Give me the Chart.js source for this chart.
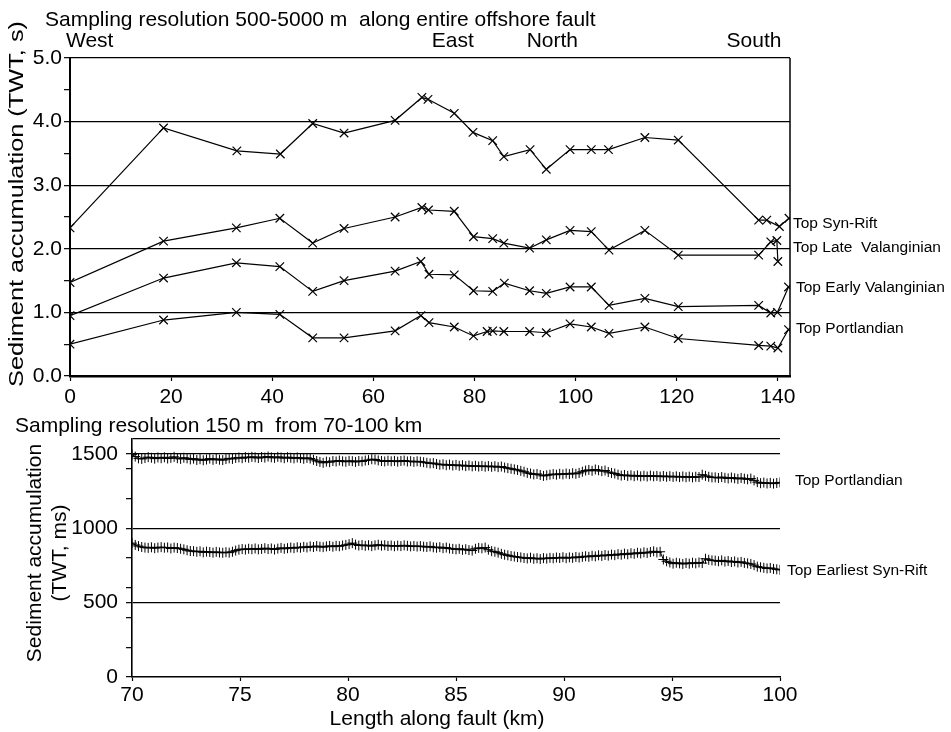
<!DOCTYPE html>
<html>
<head>
<meta charset="utf-8">
<script src="https://cdn.jsdelivr.net/npm/chart.js@4.4.1/dist/chart.umd.min.js"></script>
<style>
  html, body { margin: 0; padding: 0; background: #fff; }
  .box { position: absolute; left: 0; width: 951px; }
</style>
</head>
<body>
<div class="box" style="top:0;height:410px"><canvas id="top-chart"></canvas></div>
<div class="box" style="top:410px;height:322px"><canvas id="bottom-chart"></canvas></div>
<script>
// ---- top panel: whole offshore fault (km, TWT s) ----
var synRiftKm  = [0, 18.5, 33, 41.6, 48, 54.2, 64.3, 69.6, 70.8, 76, 79.7, 83.6, 85.8, 91, 94.2, 98.9, 103.1, 106.5, 113.7, 120.3, 136.2, 137.8, 140.3, 142.2];
var synRiftTwt = [2.33, 3.90, 3.54, 3.49, 3.97, 3.82, 4.02, 4.38, 4.35, 4.13, 3.83, 3.70, 3.45, 3.56, 3.25, 3.56, 3.56, 3.56, 3.75, 3.71, 2.45, 2.45, 2.35, 2.48];

var lateValKm  = [0, 18.5, 32.9, 41.5, 48, 54.2, 64.3, 69.6, 70.9, 76, 79.8, 83.6, 85.8, 90.9, 94.2, 98.9, 103.1, 106.6, 113.7, 120.3, 136.2, 138.6, 139.8, 140];
var lateValTwt = [1.47, 2.12, 2.33, 2.48, 2.09, 2.32, 2.50, 2.65, 2.61, 2.59, 2.19, 2.16, 2.09, 2.01, 2.14, 2.29, 2.27, 1.98, 2.29, 1.90, 1.90, 2.11, 2.13, 1.80];

var earlyValKm  = [0, 18.5, 32.9, 41.5, 48, 54.2, 64.3, 69.4, 71, 76, 79.8, 83.6, 85.9, 90.9, 94.2, 98.9, 103.1, 106.6, 113.7, 120.3, 136.2, 138.6, 139.9, 142.1];
var earlyValTwt = [0.95, 1.54, 1.78, 1.72, 1.33, 1.50, 1.65, 1.80, 1.60, 1.59, 1.34, 1.33, 1.46, 1.34, 1.30, 1.40, 1.40, 1.11, 1.22, 1.09, 1.11, 0.99, 1.00, 1.40];

var portKm  = [0, 18.5, 32.9, 41.5, 48, 54.2, 64.3, 69.4, 71, 76, 79.8, 82.5, 83.6, 85.8, 90.9, 94.2, 98.9, 103.1, 106.6, 113.7, 120.3, 136.2, 138.6, 140, 142.1];
var portTwt = [0.50, 0.88, 1.00, 0.97, 0.60, 0.60, 0.71, 0.95, 0.84, 0.77, 0.63, 0.70, 0.71, 0.70, 0.70, 0.68, 0.82, 0.77, 0.67, 0.77, 0.59, 0.48, 0.47, 0.44, 0.73];

var topSeriesNames = ['Top Syn-Rift', 'Top Late  Valanginian', 'Top Early Valanginian', 'Top Portlandian'];
var topTicksKm  = [0, 20, 40, 60, 80, 100, 120, 140];
var topTicksTwt = [0, 0.5, 1, 1.5, 2, 2.5, 3, 3.5, 4, 4.5, 5];

// ---- bottom panel: 150 m sampling from 70-100 km (TWT ms) ----
var bottomStartKm = 70;
var bottomStepKm = 0.15;
var portMs = [
  1495,1482,1470,1466,1472,1478,1474,1468,1476,1471,
  1477,1469,1473,1480,1471,1466,1474,1470,1463,1468,
  1459,1464,1457,1462,1468,1460,1466,1461,1458,1465,
  1470,1466,1473,1476,1471,1478,1474,1480,1477,1472,
  1479,1475,1482,1477,1473,1480,1476,1471,1478,1474,
  1470,1476,1472,1467,1473,1469,1460,1452,1446,1440,
  1448,1444,1452,1449,1455,1450,1447,1453,1451,1446,
  1452,1449,1455,1458,1464,1462,1456,1452,1449,1454,
  1450,1453,1448,1452,1455,1449,1451,1446,1450,1447,
  1444,1440,1436,1438,1432,1427,1430,1424,1428,1422,
  1426,1420,1424,1418,1422,1416,1420,1415,1419,1414,
  1418,1413,1417,1411,1415,1408,1404,1400,1396,1392,
  1386,1380,1372,1368,1362,1365,1358,1352,1356,1360,
  1364,1360,1366,1362,1368,1364,1370,1366,1372,1380,
  1388,1392,1386,1395,1390,1384,1388,1378,1372,1368,
  1360,1354,1358,1352,1356,1350,1355,1349,1353,1348,
  1354,1349,1352,1347,1351,1346,1350,1345,1349,1344,
  1348,1343,1347,1342,1346,1344,1360,1352,1346,1342,
  1342,1338,1344,1339,1335,1341,1336,1332,1338,1333,
  1329,1334,1322,1310,1303,1307,1301,1305,1300,1304,
  1308
];
var earliestSynRiftMs = [
  900,888,880,874,870,868,872,866,870,873,
  869,871,864,870,867,862,858,852,847,846,
  842,845,838,843,840,836,841,837,835,839,
  836,842,850,856,860,857,862,859,864,858,
  861,866,860,864,857,863,868,862,866,870,
  866,872,869,875,871,878,874,880,876,873,
  878,881,876,882,879,884,888,893,900,890,
  884,887,882,886,880,885,889,883,886,881,
  884,879,883,880,885,882,878,881,877,880,
  876,874,878,872,869,873,866,870,864,861,
  858,862,855,859,853,850,862,868,865,870,
  856,846,842,836,828,822,818,813,810,806,
  804,800,797,802,795,798,793,799,796,801,
  798,803,800,805,799,804,801,807,803,808,
  812,808,815,811,818,814,820,816,823,819,
  826,822,829,825,832,828,835,831,838,834,
  840,845,838,842,790,778,770,762,768,764,
  760,766,762,768,764,770,766,795,788,784,
  782,778,784,776,780,773,777,770,774,767,
  764,760,752,742,738,734,730,733,727,724,
  720
];
var bottomSeriesNames = ['Top Portlandian', 'Top Earliest Syn-Rift'];
var bottomTicksKm = [70, 75, 80, 85, 90, 95, 100];
var bottomTicksMs = [0, 200, 400, 500, 600, 800, 1000, 1200, 1400, 1500, 1600];

var fontFamily = '"Liberation Sans", Arial, sans-serif';
Chart.defaults.font.family = fontFamily;
Chart.defaults.color = '#000';

function pairs(xs, ys) {
  return ys.map(function (y, i) { return { x: xs[i], y: y }; });
}
function sampled(ys) {
  return ys.map(function (y, i) { return { x: bottomStartKm + i * bottomStepKm, y: y }; });
}
function lineSet(label, data, style, radius, width) {
  return {
    label: label, data: data, showLine: true,
    borderColor: '#000', borderWidth: width,
    pointStyle: style, pointRadius: radius, pointBorderColor: '#000',
    pointBorderWidth: width, pointBackgroundColor: '#000'
  };
}

var topText = {
  id: 'topText',
  afterDraw: function (chart) {
    var c = chart.ctx, xs = chart.scales.x, ys = chart.scales.y, a = chart.chartArea;
    c.save();
    c.strokeStyle = '#000';
    c.lineWidth = 1.5;
    c.beginPath(); c.moveTo(a.right, a.top); c.lineTo(a.right, a.bottom); c.stroke();
    c.fillStyle = '#000';
    c.font = '21px ' + fontFamily;
    c.textAlign = 'left';
    c.fillText('Sampling resolution 500-5000 m  along entire offshore fault', 45, 26);
    c.fillText('West', xs.getPixelForValue(0) - 4, 47);
    c.textAlign = 'center';
    c.fillText('East', xs.getPixelForValue(75.7), 47);
    c.fillText('North', xs.getPixelForValue(95.4), 47);
    c.textAlign = 'right';
    c.fillText('South', xs.getPixelForValue(140.7), 47);
    // series names at the right edge
    c.font = '15.5px ' + fontFamily;
    c.textAlign = 'left';
    c.textBaseline = 'middle';
    var at = [2.40, 2.01, 1.39, 0.74];
    topSeriesNames.forEach(function (n, i) {
      c.fillText(n, a.right + 3 + (i > 1 ? 3 : 0), ys.getPixelForValue(at[i]));
    });
    // y title, stretched along the axis like the original
    c.font = '21px ' + fontFamily;
    var t = 'Sediment accumulation (TWT, s)';
    var w = c.measureText(t).width;
    c.translate(17, 204);
    c.rotate(-Math.PI / 2);
    c.scale(366 / w, 1);
    c.textAlign = 'center';
    c.fillText(t, 0, 0);
    c.restore();
  }
};

var bottomText = {
  id: 'bottomText',
  afterDraw: function (chart) {
    var c = chart.ctx, ys = chart.scales.y, a = chart.chartArea;
    c.save();
    c.fillStyle = '#000';
    c.font = '21px ' + fontFamily;
    c.textAlign = 'left';
    c.fillText('Sampling resolution 150 m  from 70-100 km', 15, 22);
    c.textAlign = 'center';
    c.fillText('Length along fault (km)', 437, 315);
    c.font = '15.5px ' + fontFamily;
    c.textAlign = 'left';
    c.textBaseline = 'middle';
    c.fillText(bottomSeriesNames[0], a.right + 15, ys.getPixelForValue(1318));
    c.fillText(bottomSeriesNames[1], a.right + 7, ys.getPixelForValue(716));
    c.font = '21px ' + fontFamily;
    c.save();
    c.translate(35, 143);
    c.rotate(-Math.PI / 2);
    c.textAlign = 'center';
    c.fillText('Sediment accumulation', 0, 0);
    c.restore();
    c.translate(60, 143);
    c.rotate(-Math.PI / 2);
    c.textAlign = 'center';
    c.fillText('(TWT, ms)', 0, 0);
    c.restore();
  }
};

new Chart(document.getElementById('top-chart').getContext('2d'), {
  type: 'scatter',
  data: {
    datasets: [
      lineSet(topSeriesNames[0], pairs(synRiftKm, synRiftTwt), 'crossRot', 6, 1.2),
      lineSet(topSeriesNames[1], pairs(lateValKm, lateValTwt), 'crossRot', 6, 1.2),
      lineSet(topSeriesNames[2], pairs(earlyValKm, earlyValTwt), 'crossRot', 6, 1.2),
      lineSet(topSeriesNames[3], pairs(portKm, portTwt), 'crossRot', 6, 1.2)
    ]
  },
  options: {
    responsive: true,
    maintainAspectRatio: false,
    animation: false,
    layout: { padding: { top: 58, right: 161, left: 0, bottom: 0 } },
    plugins: { legend: { display: false }, tooltip: { enabled: false } },
    scales: {
      x: {
        type: 'linear', min: 0, max: 142.4,
        afterBuildTicks: function (s) { s.ticks = topTicksKm.map(function (v) { return { value: v }; }); },
        afterFit: function (s) { s.height = 34; },
        border: { color: '#000', width: 2.5 },
        grid: { drawOnChartArea: false, tickLength: 5, tickColor: '#000', tickWidth: 1.2 },
        ticks: { autoSkip: false, maxRotation: 0, padding: 4, font: { size: 21 } }
      },
      y: {
        min: 0, max: 5,
        afterBuildTicks: function (s) { s.ticks = topTicksTwt.map(function (v) { return { value: v }; }); },
        afterFit: function (s) { s.width = 70; },
        border: { color: '#000', width: 2 },
        grid: {
          tickLength: 6, tickWidth: 1.2, tickColor: '#000', lineWidth: 1.3,
          color: function (ctx) {
            var v = ctx.tick && ctx.tick.value;
            return (v > 0 && v % 1 === 0) ? '#000' : 'rgba(0,0,0,0)';
          }
        },
        ticks: {
          autoSkip: false, padding: 2, font: { size: 21 },
          callback: function (v) { return v % 1 === 0 ? v.toFixed(1) : ''; }
        }
      }
    }
  },
  plugins: [topText]
});

new Chart(document.getElementById('bottom-chart').getContext('2d'), {
  type: 'scatter',
  data: {
    datasets: [
      lineSet(bottomSeriesNames[0], sampled(portMs), 'cross', 5, 1),
      lineSet(bottomSeriesNames[1], sampled(earliestSynRiftMs), 'cross', 5, 1)
    ]
  },
  options: {
    responsive: true,
    maintainAspectRatio: false,
    animation: false,
    layout: { padding: { top: 29, right: 171, left: 0, bottom: 0 } },
    plugins: { legend: { display: false }, tooltip: { enabled: false } },
    scales: {
      x: {
        type: 'linear', min: 70, max: 100,
        afterBuildTicks: function (s) { s.ticks = bottomTicksKm.map(function (v) { return { value: v }; }); },
        afterFit: function (s) { s.height = 55; },
        border: { color: '#000', width: 1.6 },
        grid: { drawOnChartArea: false, tickLength: 4, tickColor: '#000', tickWidth: 1.2 },
        ticks: { autoSkip: false, maxRotation: 0, padding: 2, font: { size: 21 } }
      },
      y: {
        min: 0, max: 1600,
        afterBuildTicks: function (s) { s.ticks = bottomTicksMs.map(function (v) { return { value: v }; }); },
        afterFit: function (s) { s.width = 132; },
        border: { color: '#000', width: 1.6 },
        grid: {
          tickLength: 6, tickWidth: 1.2, lineWidth: 1.3,
          tickColor: function (ctx) { return ctx.tick && ctx.tick.value === 1600 ? 'rgba(0,0,0,0)' : '#000'; },
          color: function (ctx) {
            var v = ctx.tick && ctx.tick.value;
            return (v > 0 && (v % 500 === 0 || v === 1600)) ? '#000' : 'rgba(0,0,0,0)';
          }
        },
        ticks: {
          autoSkip: false, padding: 8, font: { size: 21 },
          callback: function (v) { return (v % 500 === 0 && v < 1600) ? String(v) : ''; }
        }
      }
    }
  },
  plugins: [bottomText]
});
</script>
</body>
</html>
